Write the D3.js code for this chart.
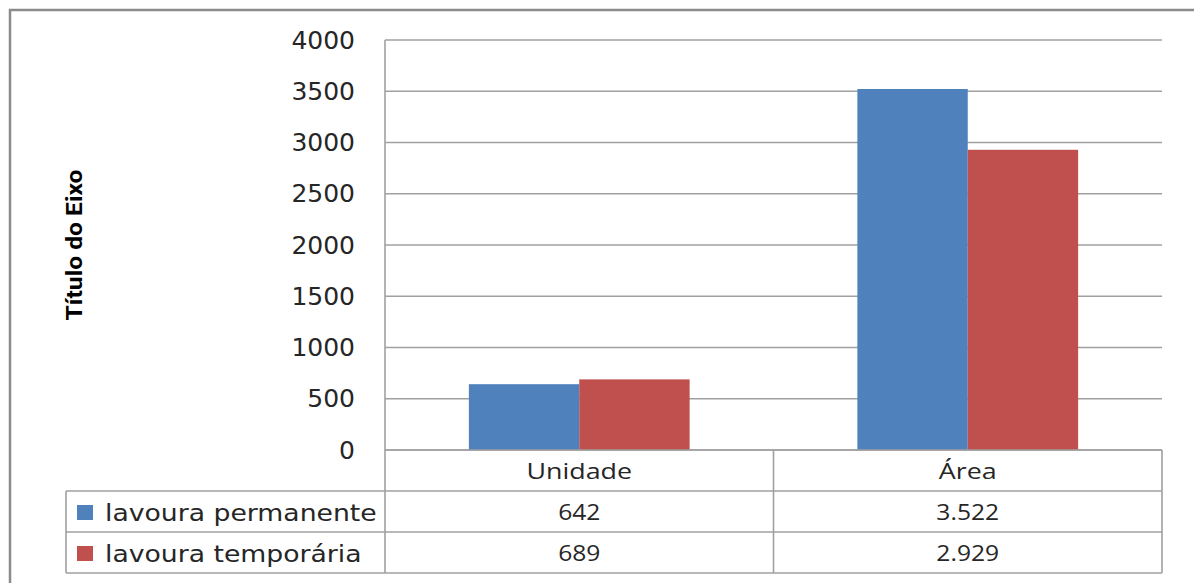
<!DOCTYPE html>
<html><head><meta charset="utf-8">
<script src="https://cdn.jsdelivr.net/npm/d3@7"></script>
<style>body{margin:0;background:#fff}svg{display:block}</style>
</head><body>
<svg id="c" width="1194" height="583"></svg>
<script>
const categories = ["Unidade", "Área"];
const seriesNames = ["lavoura permanente", "lavoura temporária"];
const permanente = [642, 3522];
const temporaria = [689, 2929];
const yTicks = [0, 500, 1000, 1500, 2000, 2500, 3000, 3500, 4000];
const axisTitle = "Título do Eixo";
const colors = ["#4F81BD", "#C0504D"];

const series = [permanente, temporaria];
const svg = d3.select("#c");
const L = 385, R = 1162, T = 40, B = 450;
const rowH = 41;
const tableLeft = 66;
const grid = "#a0a0a0";

// outer border
svg.append("rect").attr("x", 10).attr("y", 10).attr("width", 1200).attr("height", 600)
  .attr("fill", "none").attr("stroke", "#8c8c8c").attr("stroke-width", 2.5);

const y = d3.scaleLinear().domain([0, 4000]).range([B, T]);
const x0 = d3.scaleBand().domain(categories).range([L, R]).paddingInner(0).paddingOuter(0);
const x1 = d3.scaleBand().domain([0, 1]).range([0, x0.bandwidth()]).paddingInner(0).paddingOuter(0.76);

// gridlines
svg.append("g").selectAll("line").data(yTicks).join("line")
  .attr("x1", L).attr("x2", R).attr("y1", d => y(d)).attr("y2", d => y(d))
  .attr("stroke", grid).attr("stroke-width", 1.6);

// y axis labels
const yAxis = d3.axisLeft(y).tickValues(yTicks).tickSize(0).tickPadding(30).tickFormat(d3.format("d"));
const ga = svg.append("g").attr("transform", `translate(${L},0)`).call(yAxis);
ga.select(".domain").remove();
ga.selectAll("text").attr("font-family", "DejaVu Sans, Verdana, sans-serif").attr("font-size", 25)
  .attr("fill", "#262626");

// bars
const gb = svg.append("g");
categories.forEach((c, i) => {
  series.forEach((s, j) => {
    gb.append("rect")
      .attr("x", x0(c) + x1(j)).attr("width", x1.bandwidth())
      .attr("y", y(s[i])).attr("height", y(0) - y(s[i]))
      .attr("fill", colors[j]);
  });
});

// axis vertical line
svg.append("line").attr("x1", L).attr("x2", L).attr("y1", T).attr("y2", B + 3 * rowH)
  .attr("stroke", grid).attr("stroke-width", 1.6);

// data table
const tg = svg.append("g").attr("stroke", grid).attr("stroke-width", 1.6);
tg.append("line").attr("x1", L).attr("x2", R).attr("y1", B).attr("y2", B);
for (let k = 1; k <= 3; k++) {
  tg.append("line").attr("x1", tableLeft).attr("x2", R).attr("y1", B + k * rowH).attr("y2", B + k * rowH);
}
tg.append("line").attr("x1", tableLeft).attr("x2", tableLeft).attr("y1", B + rowH).attr("y2", B + 3 * rowH);
categories.forEach(c => {
  const xe = x0(c) + x0.bandwidth();
  tg.append("line").attr("x1", xe).attr("x2", xe).attr("y1", B).attr("y2", B + 3 * rowH);
});

const tableFont = "'Open Sans', Roboto, sans-serif";
const locale = d3.formatLocale({decimal: ",", thousands: ".", grouping: [3], currency: ["R$", ""]});
const fmt = locale.format(",d");

function stext(x, yy, sx, txt) {
  return svg.append("text").attr("transform", `translate(${x},${yy}) scale(${sx},1)`).text(txt);
}

categories.forEach(c => {
  stext(x0(c) + x0.bandwidth() / 2, B + rowH / 2 + 8, 1.22, c)
    .attr("text-anchor", "middle").attr("font-family", tableFont).attr("font-size", 22)
    .attr("fill", "#262626");
});
series.forEach((s, j) => {
  const yy = B + (j + 1) * rowH;
  categories.forEach((c, i) => {
    stext(x0(c) + x0.bandwidth() / 2, yy + rowH / 2 + 8.5, 1.12, fmt(s[i]))
      .attr("text-anchor", "middle").attr("font-family", tableFont).attr("font-size", 22)
      .attr("fill", "#262626");
  });
  svg.append("rect").attr("x", 77).attr("y", yy + rowH / 2 - 6.5).attr("width", 16).attr("height", 15)
    .attr("fill", colors[j]);
  stext(105, yy + rowH / 2 + 9.5, 1.16, seriesNames[j])
    .attr("font-family", "DejaVu Sans, Verdana, sans-serif").attr("font-size", 23)
    .attr("fill", "#262626");
});

// axis title
svg.append("text").attr("transform", `translate(82,${(T + B) / 2}) rotate(-90) scale(1.12,1)`)
  .attr("text-anchor", "middle").attr("font-family", "Roboto, sans-serif").attr("font-weight", "bold")
  .attr("font-size", 22).attr("fill", "#000").text(axisTitle);
</script>
</body></html>
